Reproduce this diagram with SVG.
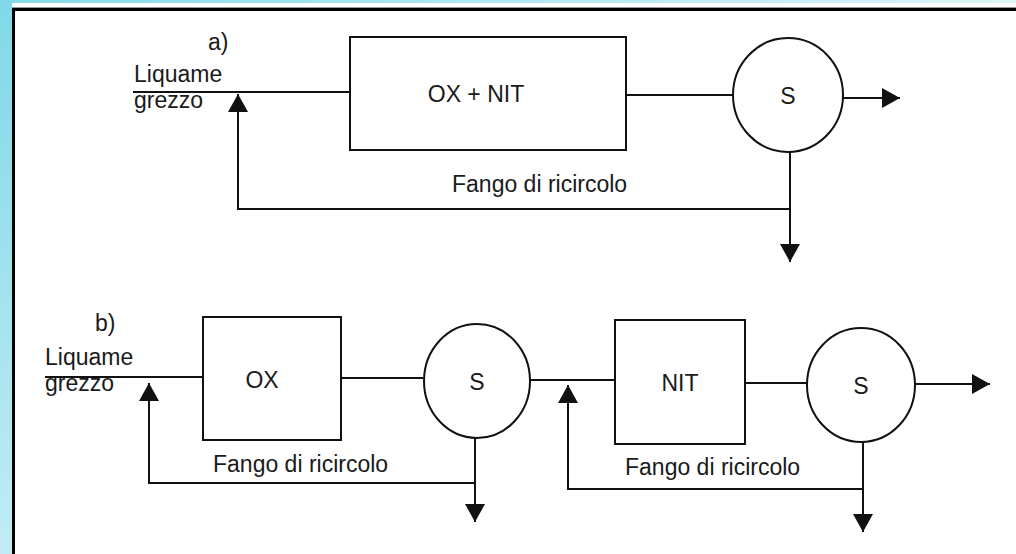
<svg xmlns="http://www.w3.org/2000/svg" width="1016" height="554" viewBox="0 0 1016 554">
<style>
.ln{fill:none;stroke:#111;stroke-width:2}
.sh{fill:#fff;stroke:#111;stroke-width:2}
.t{font-family:"Liberation Sans",Arial,sans-serif;font-size:23px;fill:#1a1a1a}
.c{text-anchor:middle}
</style>
<defs>
<linearGradient id="gl" x1="0" y1="0" x2="0" y2="1"><stop offset="0" stop-color="#80d8e8"/><stop offset="1" stop-color="#c2ecf4"/></linearGradient>
<linearGradient id="gt" x1="0" y1="0" x2="1" y2="0"><stop offset="0" stop-color="#86dbea"/><stop offset="1" stop-color="#dcf5f9"/></linearGradient>
<marker id="arr" markerWidth="18" markerHeight="20" refX="18" refY="10" orient="auto" markerUnits="userSpaceOnUse"><path d="M0,0 L18,10 L0,20 Z" fill="#111"/></marker>
</defs>
<rect x="0" y="0" width="1016" height="554" fill="#fff"/>
<rect x="0" y="0" width="12" height="554" fill="url(#gl)"/>
<rect x="12" y="0" width="1004" height="3" fill="url(#gt)"/>
<rect x="12" y="7" width="1004" height="1" fill="#999"/>
<rect x="12" y="8" width="1004" height="3" fill="#000"/>
<rect x="12" y="8" width="3" height="546" fill="#000"/>

<g id="connectors">
<path class="ln" d="M133,92 H350"/>
<path class="ln" d="M626,95 H733"/>
<path class="ln" d="M843,98 H900" marker-end="url(#arr)"/>
<path class="ln" d="M790,152 V262" marker-end="url(#arr)"/>
<path class="ln" d="M790,209 H238 V94" marker-end="url(#arr)"/>

<path class="ln" d="M45,377 H203"/>
<path class="ln" d="M341,378 H423"/>
<path class="ln" d="M475,438 V522" marker-end="url(#arr)"/>
<path class="ln" d="M475,483 H149 V383" marker-end="url(#arr)"/>
<path class="ln" d="M530,380 H615"/>
<path class="ln" d="M745,383 H808"/>
<path class="ln" d="M915,384 H990" marker-end="url(#arr)"/>
<path class="ln" d="M863,442 V532" marker-end="url(#arr)"/>
<path class="ln" d="M863,489 H568 V385" marker-end="url(#arr)"/>
</g>

<g id="labels">
<text class="t" x="208" y="50">a)</text>
<text class="t" x="134" y="82">Liquame</text>
<text class="t" x="134" y="108">grezzo</text>
<text class="t" x="452" y="192">Fango di ricircolo</text>
<text class="t" x="95" y="331">b)</text>
<text class="t" x="45" y="365">Liquame</text>
<text class="t" x="45" y="391">grezzo</text>
<text class="t" x="213" y="472">Fango di ricircolo</text>
<text class="t" x="625" y="475">Fango di ricircolo</text>
</g>

<g id="nodeOxNit">
<rect class="sh" x="350" y="37" width="276" height="113"/>
<text class="t c" x="476" y="102">OX + NIT</text>
</g>
<g id="nodeSa">
<ellipse class="sh" cx="788" cy="95" rx="55" ry="57"/>
<text class="t c" x="788" y="104">S</text>
</g>
<g id="nodeOx">
<rect class="sh" x="203" y="317" width="138" height="123"/>
<text class="t c" x="262" y="388">OX</text>
</g>
<g id="nodeSb1">
<ellipse class="sh" cx="477" cy="381" rx="53" ry="57"/>
<text class="t c" x="477" y="390">S</text>
</g>
<g id="nodeNit">
<rect class="sh" x="615" y="320" width="130" height="124"/>
<text class="t c" x="680" y="391">NIT</text>
</g>
<g id="nodeSb2">
<ellipse class="sh" cx="861" cy="385" rx="54" ry="57"/>
<text class="t c" x="861" y="394">S</text>
</g>
</svg>
